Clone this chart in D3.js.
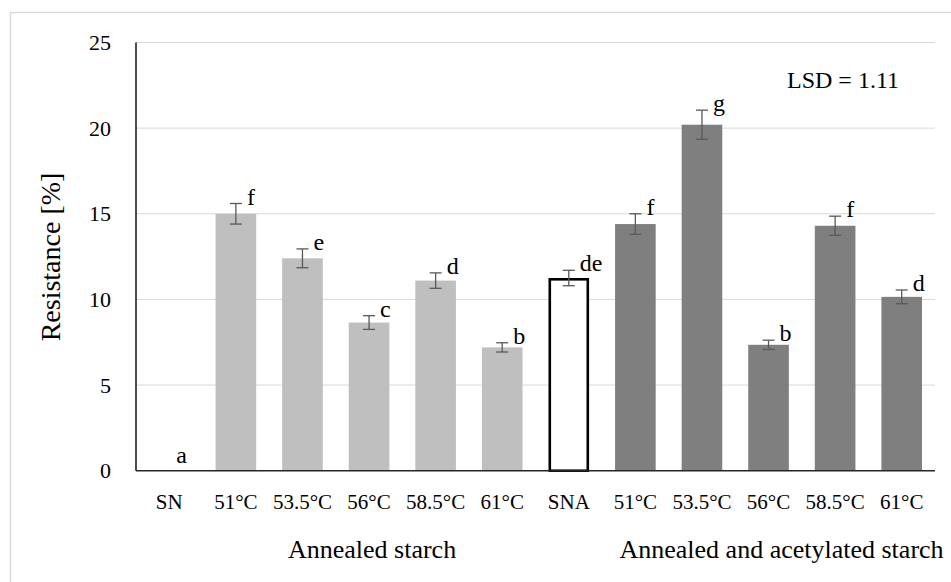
<!DOCTYPE html>
<html>
<head>
<meta charset="utf-8">
<script src="https://cdn.jsdelivr.net/npm/d3@7"></script>
<style>
  html, body { margin: 0; padding: 0; background: #fff; }
  svg { display: block; }
</style>
</head>
<body>
<svg id="chart" width="951" height="582"></svg>
<script>
// ---- data ----
const categories = ["SN", "51°C", "53.5°C", "56°C", "58.5°C", "61°C",
                    "SNA", "51°C", "53.5°C", "56°C", "58.5°C", "61°C"];
const groupOf    = ["native", "annealed", "annealed", "annealed", "annealed", "annealed",
                    "nativeAcetylated", "acetylated", "acetylated", "acetylated", "acetylated", "acetylated"];
const values     = [0, 15.0, 12.4, 8.65, 11.1, 7.2, 11.25, 14.4, 20.2, 7.35, 14.3, 10.15];
const errors     = [0, 0.6, 0.55, 0.4, 0.45, 0.27, 0.45, 0.6, 0.85, 0.27, 0.56, 0.4];
const letters    = ["a", "f", "e", "c", "d", "b", "de", "f", "g", "b", "f", "d"];
const yTicks     = [0, 5, 10, 15, 20, 25];
const groupLabels = ["Annealed starch", "Annealed and acetylated starch"];
const groupRanges = [[1, 5], [7, 11]];
const yTitle = "Resistance [%]";
const lsdText = "LSD = 1.11";

(function () {
const FONT = '"Liberation Serif", serif';
const svg = d3.select("#chart");
const pLeft = 136, pRight = 935, pTop = 42.5, pBottom = 470.7;

const x = d3.scaleBand()
  .domain(d3.range(categories.length))
  .range([pLeft, pRight])
  .paddingInner(0.39)
  .paddingOuter(0.195);

const y = d3.scaleLinear().domain([0, 25]).range([pBottom, pTop]);

const fillFor = {
  native: "#ffffff",
  annealed: "#bfbfbf",
  nativeAcetylated: "#ffffff",
  acetylated: "#7f7f7f"
};

// outer border
svg.append("rect")
  .attr("x", 10.5).attr("y", 12.5)
  .attr("width", 1000).attr("height", 1000)
  .attr("fill", "none").attr("stroke", "#d9d9d9").attr("stroke-width", 1.5);

// gridlines
svg.append("g").selectAll("line")
  .data(yTicks.filter(t => t > 0))
  .join("line")
  .attr("x1", pLeft).attr("x2", pRight)
  .attr("y1", d => y(d)).attr("y2", d => y(d))
  .attr("stroke", "#d9d9d9").attr("stroke-width", 1);

// y tick labels via axis
const yAxis = svg.append("g")
  .attr("transform", `translate(${pLeft},0)`)
  .call(d3.axisLeft(y).tickValues(yTicks).tickSize(0).tickPadding(25));
yAxis.select(".domain").remove();
yAxis.selectAll("text")
  .style("font-family", FONT)
  .style("font-size", "22px")
  .attr("fill", "#000");

// bars
const idx = d3.range(categories.length);
const barSel = svg.append("g").selectAll("rect")
  .data(idx.filter(i => values[i] > 0))
  .join("rect")
  .attr("fill", i => fillFor[groupOf[i]]);
barSel.each(function(i) {
  const outlined = groupOf[i] === "nativeAcetylated";
  const sw = outlined ? 2.6 : 0;
  d3.select(this)
    .attr("x", x(i) + sw / 2)
    .attr("width", x.bandwidth() - sw)
    .attr("y", y(values[i]) + sw / 2)
    .attr("height", y(0) - y(values[i]) - sw / 2)
    .attr("stroke", outlined ? "#000" : "none")
    .attr("stroke-width", sw);
});

// error bars
const eb = svg.append("g").attr("stroke", "#595959").attr("stroke-width", 1.3);
idx.filter(i => errors[i] > 0).forEach(i => {
  const cx = x(i) + x.bandwidth() / 2;
  const y1 = y(values[i] + errors[i]), y2 = y(values[i] - errors[i]);
  eb.append("line").attr("x1", cx).attr("x2", cx).attr("y1", y1).attr("y2", y2);
  eb.append("line").attr("x1", cx - 6).attr("x2", cx + 6).attr("y1", y1).attr("y2", y1);
  eb.append("line").attr("x1", cx - 6).attr("x2", cx + 6).attr("y1", y2).attr("y2", y2);
});

// axes lines
svg.append("line")
  .attr("x1", pLeft).attr("x2", pLeft).attr("y1", pTop).attr("y2", pBottom)
  .attr("stroke", "#000").attr("stroke-width", 1.4);
svg.append("line")
  .attr("x1", pLeft).attr("x2", pRight).attr("y1", pBottom).attr("y2", pBottom)
  .attr("stroke", "#262626").attr("stroke-width", 1.4);

// significance letters
svg.append("g").selectAll("text")
  .data(idx)
  .join("text")
  .style("font-family", FONT).style("font-size", "24px")
  .attr("x", i => x(i) + x.bandwidth() / 2 + (values[i] === 0 ? 7 : 11))
  .attr("y", i => values[i] === 0 ? y(0) - 8 : y(values[i] + errors[i]) + 1)
  .text(i => letters[i]);

// category labels
svg.append("g").selectAll("text")
  .data(idx)
  .join("text")
  .style("font-family", FONT).style("font-size", "21px")
  .attr("text-anchor", "middle")
  .attr("x", i => x(i) + x.bandwidth() / 2)
  .attr("y", 509)
  .text(i => categories[i]);

// group labels
svg.append("g").selectAll("text")
  .data(groupLabels)
  .join("text")
  .style("font-family", FONT).style("font-size", "26px")
  .attr("text-anchor", "middle")
  .attr("x", (d, k) => {
    const a = x(groupRanges[k][0]) + x.bandwidth() / 2;
    const b = x(groupRanges[k][1]) + x.bandwidth() / 2;
    return (a + b) / 2 + (k === 0 ? 3 : 13);
  })
  .attr("y", 558)
  .text(d => d);

// y title
svg.append("text")
  .style("font-family", FONT).style("font-size", "28px")
  .attr("text-anchor", "middle")
  .attr("transform", `translate(60,257) rotate(-90)`)
  .text(yTitle);

// LSD note
svg.append("text")
  .style("font-family", FONT).style("font-size", "24px")
  .attr("x", 787).attr("y", 88)
  .text(lsdText);
})();
</script>
</body>
</html>
